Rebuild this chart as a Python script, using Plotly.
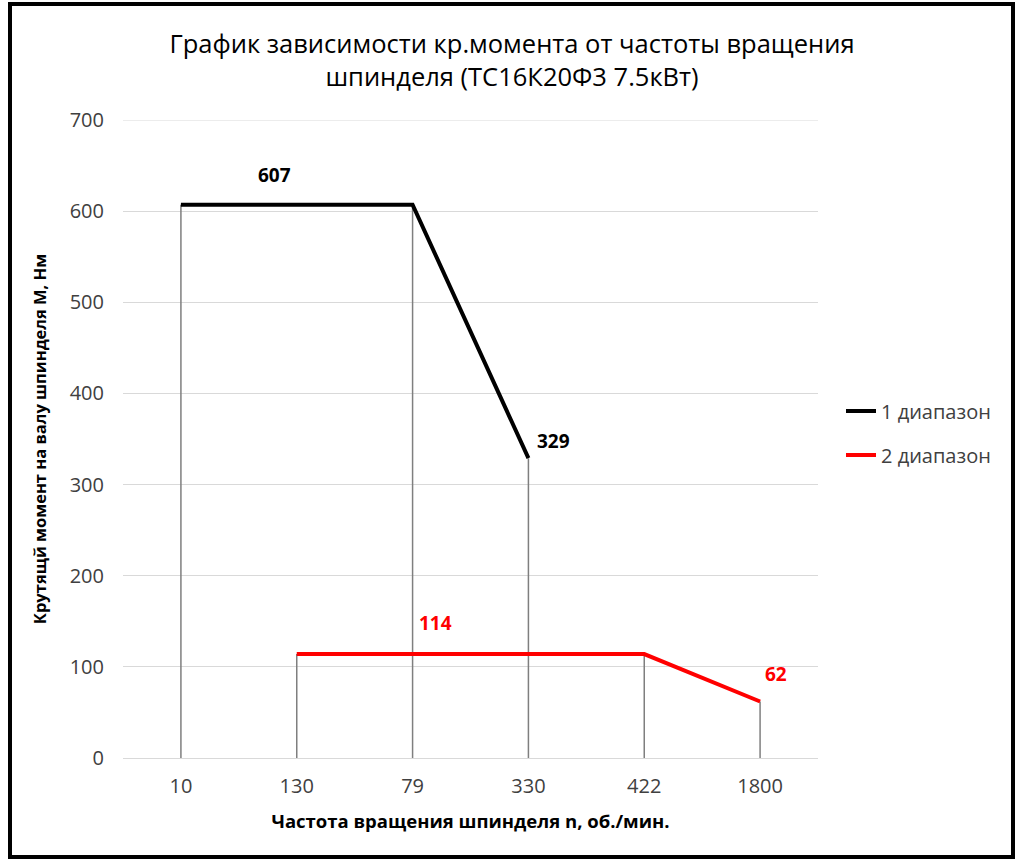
import plotly.graph_objects as go

categories = ["10", "130", "79", "330", "422", "1800"]
range1 = [607, None, 607, 329, None, None]
range2 = [None, 114, None, None, 114, 62]
series_names = ["1 диапазон", "2 диапазон"]
title_text = "График зависимости кр.момента от частоты вращения<br>шпинделя (ТС16К20Ф3 7.5кВт)"
x_title = "Частота вращения шпинделя n, об./мин."
y_title = "Крутящй момент на валу шпинделя М, Нм"
y_max, y_step = 700, 100

W, H = 1024, 861
L, R, T, B = 123, 206, 120, 103
pw, ph = W - L - R, H - T - B

def px_x(p):
    return (p - L) / pw

def px_y(p):
    return (H - B - p) / ph

idx = list(range(len(categories)))

# drop lines: from 0 up to the highest value at each category
drop_x, drop_y = [], []
for i in idx:
    vals = [v for v in (range1[i], range2[i]) if v is not None]
    if vals:
        drop_x += [i, i, None]
        drop_y += [0, max(vals), None]

fig = go.Figure()
fig.add_trace(go.Scatter(x=drop_x, y=drop_y, mode="lines",
                         line=dict(color="#7f7f7f", width=1.5),
                         showlegend=False, hoverinfo="skip"))
fig.add_trace(go.Scatter(x=idx, y=range1, mode="lines", name=series_names[0],
                         connectgaps=True, line=dict(color="black", width=4),
                         legend="legend"))
fig.add_trace(go.Scatter(x=idx, y=range2, mode="lines", name=series_names[1],
                         connectgaps=True, line=dict(color="#ff0000", width=4),
                         legend="legend2"))

font_family = "Open Sans, DejaVu Sans, sans-serif"
blk = dict(family=font_family, size=19, color="black")
red = dict(family=font_family, size=19, color="#ff0000")
ann = [
    dict(x=1, y=range1[0], text="<b>607</b>", xshift=-22, yshift=30, font=blk),
    dict(x=3, y=range1[3], text="<b>329</b>", xshift=25, yshift=17, font=blk),
    dict(x=2, y=range2[1], text="<b>114</b>", xshift=23, yshift=31, font=red),
    dict(x=5, y=range2[5], text="<b>62</b>", xshift=16, yshift=27, font=red),
]
for a in ann:
    a.update(showarrow=False, xref="x", yref="y")

fig.update_layout(
    width=W, height=H,
    margin=dict(l=L, r=R, t=T, b=B, autoexpand=False),
    paper_bgcolor="white", plot_bgcolor="white",
    title=dict(text=title_text, x=0.5, xanchor="center", y=1 - 53 / H, yanchor="middle",
               font=dict(family=font_family, size=25.5, color="black")),
    xaxis=dict(range=[-0.5, len(categories) - 0.5], tickmode="array",
               tickvals=idx, ticktext=categories,
               showgrid=False, showline=False, zeroline=False, automargin=False,
               tickfont=dict(family=font_family, size=20, color="#404040"),
               ticks="", ticklabelstandoff=14,
               title=dict(text="<b>" + x_title + "</b>", standoff=17,
                          font=dict(family=font_family, size=18.5, color="black"))),
    yaxis=dict(range=[0, y_max], dtick=y_step, showgrid=True, gridcolor="#d9d9d9", gridwidth=1,
               zeroline=True, zerolinecolor="#d9d9d9", zerolinewidth=1, showline=False,
               automargin=False,
               tickfont=dict(family=font_family, size=20, color="#404040"),
               ticks="", ticklabelstandoff=18,
               title=dict(text="<b>" + y_title + "</b>", standoff=18,
                          font=dict(family=font_family, size=16.5, color="black"))),
    legend=dict(x=px_x(841), y=px_y(411), xanchor="left", yanchor="middle",
                font=dict(family=font_family, size=20, color="#404040"),
                bgcolor="rgba(0,0,0,0)"),
    legend2=dict(x=px_x(841), y=px_y(455), xanchor="left", yanchor="middle",
                 font=dict(family=font_family, size=20, color="#404040"),
                 bgcolor="rgba(0,0,0,0)"),
    annotations=ann,
    shapes=[
        dict(type="line", xref="paper", yref="y", x0=0, x1=1, y0=y_max, y1=y_max,
             line=dict(color="#d9d9d9", width=1), layer="below"),
        dict(type="rect", xref="paper", yref="paper",
             x0=px_x(10), x1=px_x(1013), y0=px_y(857), y1=px_y(4),
             line=dict(color="black", width=4), fillcolor="rgba(0,0,0,0)", layer="above"),
    ],
    hovermode=False,
)

fig.write_html("out.html", config={"displayModeBar": False},
               post_script="document.body.style.margin='0';")
